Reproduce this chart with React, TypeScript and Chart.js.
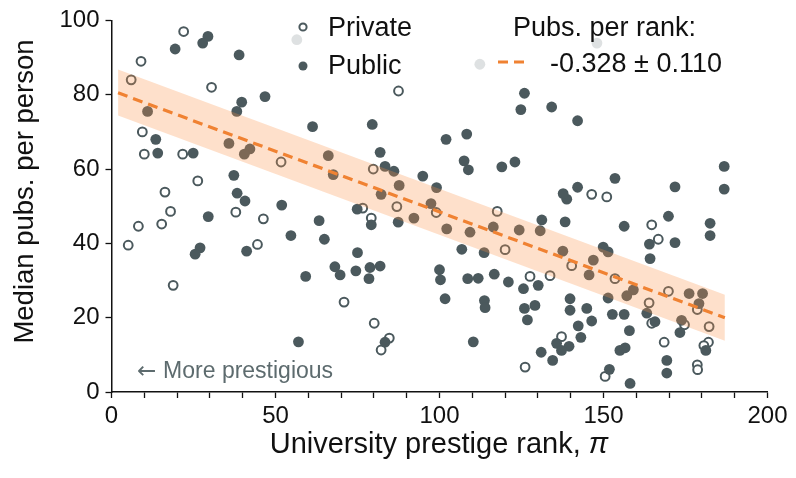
import React, { useEffect, useRef } from 'react';
import { Chart, registerables } from 'chart.js';

Chart.register(...registerables);

// ---------- data ----------
const privateX = [22, 9, 6, 30.5, 9.4, 10, 21.7, 26.3, 16.3, 18, 37.9, 46.3, 8.2, 15.3, 5.1, 44.5, 18.8,
  87.5, 51.7, 79.8, 87, 99, 76.6, 79.2, 70.9, 80.1, 84.7, 82.2, 117.6, 120, 146.4, 151, 140.3, 127.6,
  133.7, 137.2, 126.1, 150.5, 153.5, 163.9, 164.7, 169.8, 174.7, 168.5, 178.6, 182.2, 182, 180.6,
  178.6, 178.7, 164.7, 166.7];
const privateY = [97, 89, 84, 82, 70, 64, 64, 56.8, 53.8, 48.6, 48.4, 46.6, 44.6, 45.2, 39.5, 39.7, 28.7,
  81, 61.9, 60, 49.9, 48.3, 49.5, 46.8, 24.2, 18.5, 14.5, 11.3, 48.6, 38.3, 53.2, 52.5, 34, 31.1,
  31.3, 14.9, 6.7, 4.2, 30.5, 24, 18.5, 27.1, 18.1, 13.4, 22.2, 17.6, 13.4, 12.5,
  7.3, 6.0, 45.0, 41.1];

const publicX = [29.4, 27.8, 19.4, 38.9, 46.8, 39.7, 38.2, 11, 13.5, 35.8, 14.1, 24.9, 42.2, 40.5, 37.3,
  38.3, 40.7, 29.5, 27, 25.5, 41.2, 61.3, 79.5, 56.5, 125.9, 124.8, 134.2, 142.1, 108.3, 102, 112.3, 148,
  66.1, 67.6, 81.9, 83.4, 86.1, 94.9, 87.7, 99.1, 82.2, 92.2, 97.4, 51.9, 74.9, 79.2, 87.4, 63.3, 54.7,
  64.9, 75, 68.1, 69.7, 59.2, 74.5, 78.8, 81.9, 78.5, 100, 100.3, 83.4, 57,
  107.5, 108.8, 119, 123, 102.2, 109.3, 116.4, 124.3, 131.2, 130.7, 138.3, 137.6, 146.9, 106.8, 113.6,
  142.1, 138.8, 137.7, 153.5, 171.8, 186.8, 186.8, 169.8, 156.3, 164, 171.8, 182.5, 182.5, 151.4, 149.9,
  164.2, 101.7, 108.6, 111.8, 116.7, 121, 125.6, 130.1, 113.7, 113.9, 125.9, 129.1, 126.8, 139.8, 139.8,
  144.9, 146.4, 142.3, 143.1, 135.7, 139.5, 137.2, 131, 134.5, 110.3, 145.6,
  151.4, 159.1, 157.1, 152.7, 156.3, 157.9, 155, 156.6, 151.8, 158.1, 163.2, 165.7, 173.8, 173.3, 169.3,
  169.3, 176.1, 180.2, 179.1, 181.2];
const publicY = [95.7, 93.9, 92.3, 90.7, 79.5, 78, 75.5, 75.5, 68, 66.9, 64.3, 64.3, 65.4, 64, 58.3,
  53.5, 51.4, 47.2, 38.8, 37.1, 37.9, 71.4, 72, 94.8, 80.4, 76, 76.7, 73, 69.4, 68, 88.2, 93.9,
  63.6, 58.5, 64.5, 60.7, 59.4, 58.1, 55.6, 55, 53.2, 46.8, 50.7, 50.3, 49.2, 45, 45.7, 46.1, 42.1,
  41.1, 37.5, 33.7, 31.5, 31.1, 32.6, 33.5, 33.9, 30.5, 32.9, 30.2, 13.4, 13.5,
  62.2, 59.8, 60.6, 61.9, 43.9, 43, 44.4, 43.6, 46.3, 43.4, 45.8, 37.9, 35.5, 38.4, 37.5,
  55.1, 51.9, 53.4, 57.5, 55.2, 60.7, 54.6, 47.3, 44.6, 39.8, 40.2, 45.4, 42.1, 37.7, 39,
  35.9, 25.1, 30.5, 30.6, 31.7, 29.6, 27.8, 28.7, 24.6, 22.7, 22.5, 23.3, 19.4, 25.1, 22,
  22.5, 19.1, 17.8, 14.7, 13.1, 12.3, 11.2, 10.7, 8.5, 13.5, 31.5,
  25.3, 27.5, 25.9, 20.9, 20.9, 16.5, 11.2, 11.9, 6.1, 2.3, 21.2, 18.9, 19.3, 16, 8.5,
  5.1, 26.5, 26.5, 23.8, 11.2];

const fitX = [2, 187];
const fitY = [80.5, 20.0];
const bandUpperY = [86.8, 26.2];
const bandLowerY = [74.4, 13.8];

const xTickValues = [0, 50, 100, 150, 200];
const yTickValues = [0, 20, 40, 60, 80, 100];

const seriesLabels = ['Private', 'Public'];
const fitTitle = 'Pubs. per rank:';
const fitLabel = '-0.328 \u00b1 0.110';
const xTitleMain = 'University prestige rank, ';
const xTitleSymbol = '\u03c0';
const yTitle = 'Median pubs. per person';
const noteArrow = '\u2190';
const noteText = 'More prestigious';
const notePos = [7.8, 5.6];

// ---------- styles ----------
const FONT = '"Liberation Sans", Arial, Helvetica, sans-serif';
const POINT = '#4b595d';
const ORANGE = '#f08232';
const BAND = 'rgba(253, 145, 70, 0.28)';

const overlayPlugin = {
  id: 'overlay',
  afterDatasetsDraw(chart: any) {
    const ctx = chart.ctx as CanvasRenderingContext2D;
    const xs = chart.scales.x;
    const ys = chart.scales.y;
    ctx.save();
    // legend backgrounds
    ctx.fillStyle = 'rgba(255,255,255,0.82)';
    ctx.fillRect(283, 6, 140, 76);
    ctx.fillRect(464, 6, 280, 76);

    // series legend
    ctx.lineWidth = 2;
    ctx.strokeStyle = POINT;
    ctx.fillStyle = '#fff';
    ctx.beginPath();
    ctx.arc(303, 27, 3.6, 0, Math.PI * 2);
    ctx.fill();
    ctx.stroke();
    ctx.fillStyle = POINT;
    ctx.beginPath();
    ctx.arc(303, 66, 4.5, 0, Math.PI * 2);
    ctx.fill();

    ctx.fillStyle = '#111';
    ctx.font = `27px ${FONT}`;
    ctx.textBaseline = 'alphabetic';
    ctx.textAlign = 'left';
    ctx.fillText(seriesLabels[0], 328, 36);
    ctx.fillText(seriesLabels[1], 328, 74);

    // fit legend
    ctx.fillText(fitTitle, 513, 36);
    ctx.fillText(fitLabel, 550, 72);
    ctx.strokeStyle = ORANGE;
    ctx.lineWidth = 3.2;
    ctx.setLineDash([10, 6]);
    ctx.beginPath();
    ctx.moveTo(498, 62);
    ctx.lineTo(528, 62);
    ctx.stroke();
    ctx.setLineDash([]);

    // note
    const nx = xs.getPixelForValue(notePos[0]);
    const ny = ys.getPixelForValue(notePos[1]);
    ctx.fillStyle = '#5d6b6e';
    ctx.textBaseline = 'middle';
    ctx.font = `23px "DejaVu Sans", ${FONT}`;
    ctx.fillText(noteArrow, nx, ny + 1);
    ctx.font = `23px ${FONT}`;
    ctx.fillText(noteText, nx + 26, ny);

    // axis titles
    ctx.fillStyle = '#111';
    ctx.textBaseline = 'alphabetic';
    ctx.font = `29px ${FONT}`;
    const w1 = ctx.measureText(xTitleMain).width;
    ctx.font = `italic 29px ${FONT}`;
    const w2 = ctx.measureText(xTitleSymbol).width;
    const cx = 439;
    const startX = cx - (w1 + w2) / 2;
    ctx.font = `29px ${FONT}`;
    ctx.fillText(xTitleMain, startX, 453);
    ctx.font = `italic 29px ${FONT}`;
    ctx.fillText(xTitleSymbol, startX + w1, 453);

    ctx.font = `27.5px ${FONT}`;
    ctx.translate(33, 191.5);
    ctx.rotate(-Math.PI / 2);
    ctx.textAlign = 'center';
    ctx.fillText(yTitle, 0, 0);
    ctx.restore();
  },
};

export default function App() {
  const ref = useRef<HTMLCanvasElement | null>(null);

  useEffect(() => {
    if (!ref.current) return;
    const chart = new Chart(ref.current, {
      type: 'scatter',
      data: {
        datasets: [
          {
            type: 'line',
            label: 'fit',
            data: fitX.map((x, i) => ({ x, y: fitY[i] })),
            borderColor: ORANGE,
            borderWidth: 3.2,
            borderDash: [10, 6],
            pointRadius: 0,
            fill: false,
            order: 0,
          } as any,
          {
            type: 'line',
            label: 'band upper',
            data: fitX.map((x, i) => ({ x, y: bandUpperY[i] })),
            borderWidth: 0,
            borderColor: 'rgba(0,0,0,0)',
            backgroundColor: BAND,
            pointRadius: 0,
            fill: '+1',
            order: 1,
          } as any,
          {
            type: 'line',
            label: 'band lower',
            data: fitX.map((x, i) => ({ x, y: bandLowerY[i] })),
            borderWidth: 0,
            borderColor: 'rgba(0,0,0,0)',
            pointRadius: 0,
            fill: false,
            order: 2,
          } as any,
          {
            label: seriesLabels[1],
            data: publicX.map((x, i) => ({ x, y: publicY[i] })),
            backgroundColor: POINT,
            borderColor: POINT,
            borderWidth: 0,
            pointRadius: 5.4,
            order: 3,
          },
          {
            label: seriesLabels[0],
            data: privateX.map((x, i) => ({ x, y: privateY[i] })),
            backgroundColor: '#ffffff',
            borderColor: POINT,
            borderWidth: 2,
            pointRadius: 4.4,
            order: 4,
          },
        ],
      },
      options: {
        responsive: false,
        animation: false,
        devicePixelRatio: 1,
        layout: { padding: { left: 0, right: 28.5, top: 15.5, bottom: 0 } },
        plugins: { legend: { display: false }, tooltip: { enabled: false } },
        scales: {
          x: {
            type: 'linear',
            min: 0,
            max: 200,
            afterFit: (s: any) => { s.height = 86; },
            afterBuildTicks: (s: any) => {
              const t: any[] = [];
              for (let v = 0; v <= 200; v += 10) t.push({ value: v });
              s.ticks = t;
            },
            ticks: {
              autoSkip: false,
              maxRotation: 0,
              color: '#111',
              padding: 4,
              font: { size: 24, family: FONT },
              callback: (v: any) => (xTickValues.includes(Number(v)) ? String(v) : ''),
            },
            grid: { drawOnChartArea: false, drawTicks: true, tickLength: 6, color: '#111', tickWidth: 1.3 },
            border: { display: true, color: '#111', width: 1.5 },
          },
          y: {
            type: 'linear',
            min: 0,
            max: 100,
            afterFit: (s: any) => { s.width = 111.5; },
            afterBuildTicks: (s: any) => {
              s.ticks = yTickValues.map((v) => ({ value: v }));
            },
            ticks: {
              color: '#111',
              padding: 6,
              font: { size: 24, family: FONT },
              callback: (v: any) => String(v),
            },
            grid: { drawOnChartArea: false, drawTicks: true, tickLength: 6, color: '#111', tickWidth: 1.3 },
            border: { display: true, color: '#111', width: 1.5 },
          },
        },
      },
      plugins: [overlayPlugin],
    } as any);
    return () => chart.destroy();
  }, []);

  return (
    <div style={{ position: 'fixed', left: 0, top: 0, width: 796, height: 478, background: '#fff' }}>
      <canvas ref={ref} width={796} height={478} style={{ width: 796, height: 478 }} />
    </div>
  );
}
